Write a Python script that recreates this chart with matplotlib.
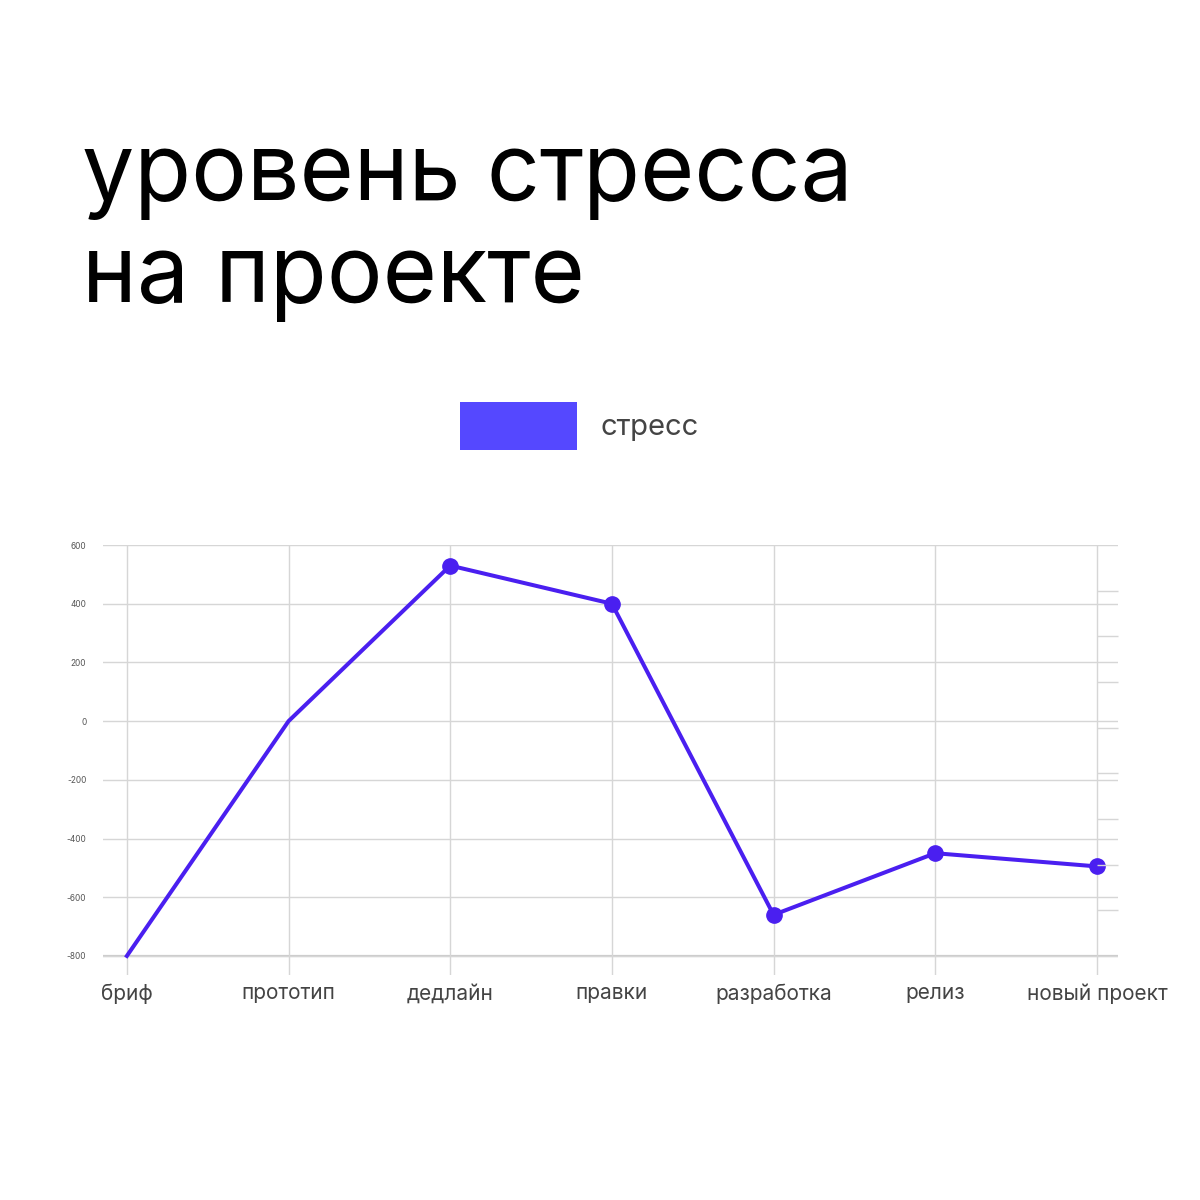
import matplotlib
matplotlib.use("Agg")
import matplotlib.pyplot as plt
from matplotlib.patches import Patch
import numpy as np

plt.rcParams['font.family'] = ['Inter', 'DejaVu Sans']

### Data
stages = ["бриф", "прототип", "дедлайн", "правки", "разработка", "релиз", "новый проект"]
stress = [-800, 0, 530, 400, -660, -450, -495]
y_ticks = [600, 400, 200, 0, -200, -400, -600, -800]
title_lines = ["уровень стресса", "на проекте"]
series_name = "стресс"

line_color = "#4a1ff0"
legend_color = "#5548ff"
grid_color = "#d6d6d6"
text_gray = "#444444"

fig = plt.figure(figsize=(12, 12), dpi=100)
fig.patch.set_facecolor("white")

### Title (two lines, fixed baselines)
fig.text(0.068, 1 - 200 / 1200, title_lines[0], fontsize=67, color="black",
         ha="left", va="baseline")
fig.text(0.068, 1 - 302 / 1200, title_lines[1], fontsize=67, color="black",
         ha="left", va="baseline")

### Plot
ax = fig.add_axes([0.0858, 0.1875, 0.8458, 0.3583])
x = np.arange(len(stages))
ax.plot(x, stress, color=line_color, lw=2.9, marker="o", markersize=11,
        markevery=[2, 3, 4, 5, 6], zorder=5, clip_on=False)
ax.set_xlim(-0.148, 6.13)
ax.set_ylim(-865, 600)
ax.set_yticks(y_ticks)
ax.set_yticklabels([str(v) for v in y_ticks], fontsize=6, color="#555555")
ax.set_xticks(x)
ax.set_xticklabels(stages, fontsize=15, color=text_gray)
ax.tick_params(axis="both", length=0)
ax.tick_params(axis="y", pad=12)
ax.tick_params(axis="x", pad=6)
ax.grid(True, color=grid_color, lw=1)
ax.axhline(-800, color="#cccccc", lw=1.6, zorder=1)
for s in ax.spines.values():
    s.set_visible(False)

### Right side ticks
ax2 = ax.twinx()
ax2.set_ylim(ax.get_ylim())
ax2.set_yticks(np.linspace(-800, 600, 10)[1:-1])
ax2.tick_params(axis="y", direction="in", length=15, width=1, color=grid_color,
                labelright=False)
for s in ax2.spines.values():
    s.set_visible(False)

### Legend
handle = Patch(facecolor=legend_color, edgecolor="none", label=series_name)
fig.legend(handles=[handle], loc="center", bbox_to_anchor=(0.483, 0.645),
           frameon=False, fontsize=21, labelcolor=text_gray,
           handlelength=4.0, handleheight=2.2, handletextpad=0.8)

plt.savefig("out.png", dpi=100, facecolor="white")
